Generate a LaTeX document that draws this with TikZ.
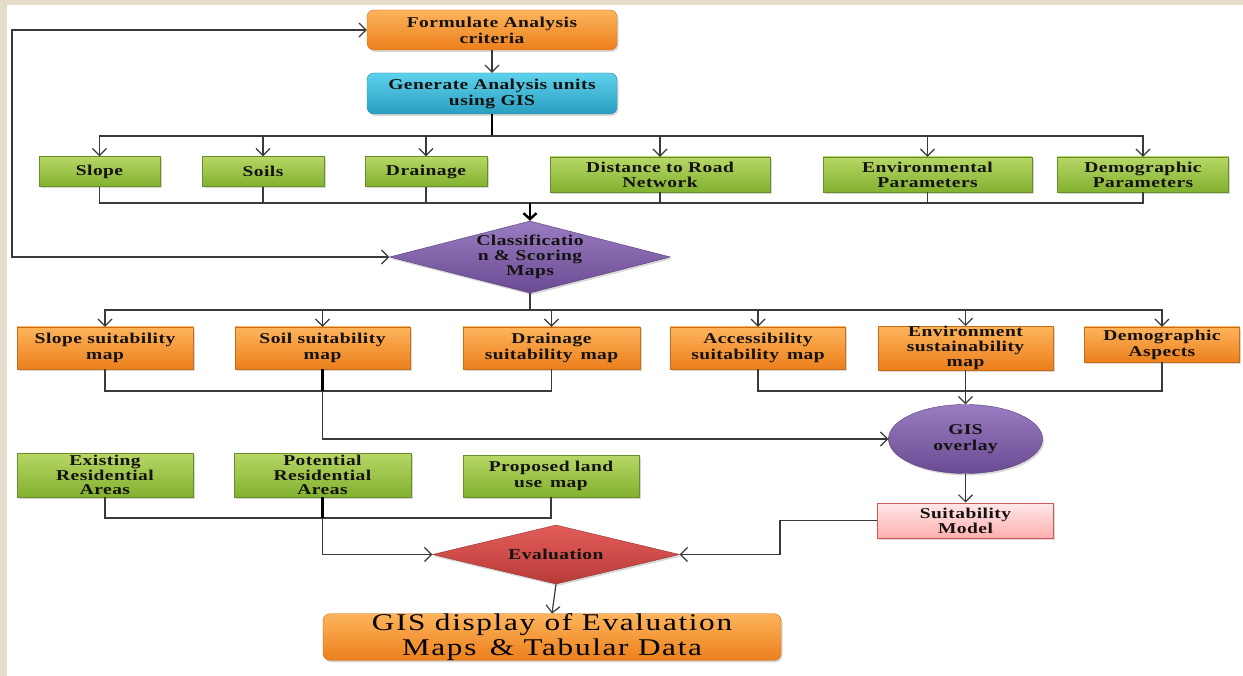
\documentclass[tikz,border=0pt]{standalone}
\usepackage{fontspec}
\setmainfont{Liberation Serif}[FakeStretch=1.3, LetterSpace=3]
\newfontfamily\bigfont{Liberation Serif}[FakeStretch=1.3, LetterSpace=7]
\usetikzlibrary{shapes.geometric, arrows.meta, shadows}

\definecolor{bgbeige}{HTML}{E5DCCC}
\definecolor{orT}{HTML}{FDB45C}
\definecolor{orB}{HTML}{EC7F1C}
\definecolor{blT}{HTML}{5ED1EC}
\definecolor{blB}{HTML}{2A9EC0}
\definecolor{grT}{HTML}{B7D766}
\definecolor{grB}{HTML}{82B12F}
\definecolor{puT}{HTML}{9A7CC2}
\definecolor{puB}{HTML}{6A4B93}
\definecolor{rdT}{HTML}{E35D5A}
\definecolor{rdB}{HTML}{B83B38}
\definecolor{pkT}{HTML}{FFE8E8}
\definecolor{pkB}{HTML}{FFAFAF}
\definecolor{pkD}{HTML}{D05A5A}
\definecolor{ln}{HTML}{3A3A3A}
\definecolor{txt}{HTML}{141210}

\begin{document}
\begin{tikzpicture}[x=1pt,y=-1pt,
  base/.style={inner sep=0pt, align=center, text=txt,
    font=\bfseries\fontsize{15}{16}\selectfont,
    drop shadow={shadow xshift=1.5pt, shadow yshift=-2pt, opacity=0.3}},
  tight/.style={font=\bfseries\fontsize{15}{15}\selectfont},
  tighter/.style={font=\bfseries\fontsize{15}{14.5}\selectfont},
  orbox/.style={base, top color=orT, bottom color=orB, draw=orB!85!black, line width=0.4pt},
  orround/.style={orbox, rounded corners=7pt},
  blround/.style={base, top color=blT, bottom color=blB, draw=blB!85!black, line width=0.4pt, rounded corners=7pt},
  grbox/.style={base, top color=grT, bottom color=grB, draw=grB!80!black, line width=0.4pt},
  pubox/.style={base, top color=puT, bottom color=puB, draw=puB!80!black, line width=0.4pt},
  rdbox/.style={base, top color=rdT, bottom color=rdB, draw=rdB!80!black, line width=0.4pt},
  pkbox/.style={base, top color=pkT, bottom color=pkB, draw=pkD, line width=1pt},
  conn/.style={draw=ln, line width=1.2pt},
  thk/.style={draw=black, line width=2.6pt},
  arr/.style={conn, -{Straight Barb[length=7pt,width=14pt,line width=1.2pt]}},
  tarr/.style={thk, -{Straight Barb[length=6pt,width=13pt,line width=2.4pt]}},
  barr/.style={conn, {Straight Barb[length=7pt,width=14pt,line width=1.2pt]}-{Straight Barb[length=7pt,width=14pt,line width=1.2pt]}}
]
\useasboundingbox (0,0) rectangle (1243,676);
\fill[bgbeige] (0,0) rectangle (1243,676);
\fill[white] (7,5) rectangle (1243,676);

% top
\node[orround, minimum width=250pt, minimum height=40pt] (form) at (492,30) {Formulate Analysis\\criteria};
\node[blround, minimum width=250pt, minimum height=41pt] (gen) at (492,93.5) {Generate Analysis units\\using GIS};

% row 1
\node[grbox, minimum width=121pt, minimum height=30pt] (slope) at (99.5,171.5) {Slope};
\node[grbox, minimum width=122pt, minimum height=30pt] (soils) at (263,171.5) {Soils};
\node[grbox, minimum width=122pt, minimum height=30pt] (drain) at (426,171.5) {Drainage};
\node[grbox, tight, minimum width=220pt, minimum height=35pt] (dist) at (660,174.5) {Distance to Road\\Network};
\node[grbox, tight, minimum width=209pt, minimum height=35pt] (envp) at (927.5,174.5) {Environmental\\Parameters};
\node[grbox, tight, minimum width=171pt, minimum height=35pt] (demp) at (1143,174.5) {Demographic\\Parameters};

% classification diamond
\node[pubox, tight, diamond, shape aspect=3.9, minimum width=281pt, minimum height=72pt] (cls) at (530,257) {Classificatio\\n \& Scoring\\Maps};

% row 2
\node[orbox, minimum width=176pt, minimum height=42pt] (sslope) at (105,348) {Slope suitability\\map};
\node[orbox, minimum width=175pt, minimum height=42pt] (ssoil) at (322.5,348) {Soil suitability\\map};
\node[orbox, minimum width=177pt, minimum height=42pt] (sdrain) at (551.5,348) {Drainage\\suitability\, map};
\node[orbox, minimum width=175pt, minimum height=42pt] (acc) at (758,348) {Accessibility\\suitability\, map};
\node[orbox, tight, minimum width=175pt, minimum height=42pt] (envs) at (965.5,348) {Environment\\sustainability\\map};
\node[orbox, minimum width=155pt, minimum height=35pt] (demo) at (1162,344.5) {Demographic\\Aspects};

% overlay
\node[pubox, ellipse, minimum width=154pt, minimum height=69pt] (ovl) at (965.5,439) {GIS\\overlay};
\node[pkbox, tight, minimum width=176pt, minimum height=35pt] (suit) at (965.5,520.5) {Suitability\\Model};

% row 3
\node[grbox, tighter, minimum width=176pt, minimum height=44pt] (exist) at (105,475) {Existing\\Residential\\Areas};
\node[grbox, tighter, minimum width=177pt, minimum height=44pt] (pot) at (322.5,475) {Potential\\Residential\\Areas};
\node[grbox, minimum width=176pt, minimum height=42pt] (prop) at (551,476) {Proposed land\\use\, map};

% evaluation
\node[rdbox, diamond, shape aspect=4.2, minimum width=247pt, minimum height=59pt] (eval) at (556,554.5) {Evaluation};

% final
\node[orround, minimum width=458pt, minimum height=42pt, font=\bigfont\fontsize{24}{24.5}\selectfont, text=black] (final) at (552,637) {GIS display of Evaluation\\Maps\, \& Tabular Data};

% coordinates
\coordinate (b1) at (492,136);
\coordinate (b2) at (530,203);
\coordinate (b3) at (530,310);
\coordinate (b4) at (322.5,391);
\coordinate (b5) at (965.5,391);
\coordinate (b6) at (322.5,518);
\coordinate (fb) at (12,30);
\coordinate (k1) at (780,520.5);

% connectors
\draw[arr] (form) -- (gen);
\draw[thk] (gen.south) -- (b1);
\foreach \n in {slope,soils,drain,dist,envp,demp} \draw[arr] (b1) -| (\n.north);
\foreach \n in {slope,soils,drain,dist,envp,demp} \draw[conn] (\n.south) |- (b2);
\draw[tarr] (b2) -- (cls.north);
\draw[barr] (form.west) -- (fb) |- (cls.west);

\draw[conn] (cls.south) -- (b3);
\foreach \n in {sslope,ssoil,sdrain,acc,envs,demo} \draw[arr] (b3) -| (\n.north);
\draw[conn] (sslope.south) |- (b4);
\draw[conn] (sdrain.south) |- (b4);
\draw[thk] (ssoil.south) -- (b4);
\draw[arr] (b4) |- (ovl.west);
\draw[conn] (acc.south) |- (b5);
\draw[conn] (demo.south) |- (b5);
\draw[arr] (envs.south) -- (ovl.north);
\draw[arr] (ovl.south) -- (suit.north);
\draw[arr] (suit.west) -- (k1) |- (eval.east);

\draw[conn] (exist.south) |- (b6);
\draw[conn] (prop.south) |- (b6);
\draw[thk] (pot.south) -- (b6);
\draw[arr] (b6) |- (eval.west);
\draw[arr] (eval.south) -- (final.north);
\end{tikzpicture}
\end{document}
